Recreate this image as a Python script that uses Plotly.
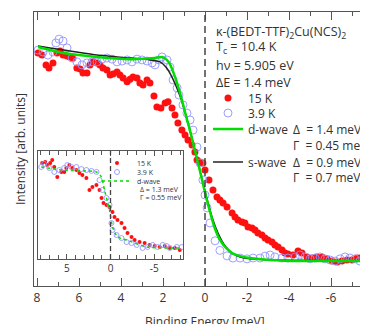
import plotly.graph_objects as go

# ---------------- data (main panel) ----------------
e_15k = [7.95, 7.76, 7.57, 7.43, 7.24, 7.05, 6.90, 6.76, 6.57, 6.43, 6.29, 6.10, 5.95, 5.81, 5.62,
         5.48, 5.33, 5.14, 5.00, 4.86, 4.67, 4.52, 4.38, 4.19, 4.05, 3.90, 3.71, 3.57, 3.43, 3.24,
         3.10, 2.95, 2.76, 2.62, 2.43, 2.29, 2.10, 1.90, 1.76, 1.57, 1.43, 1.29, 1.10, 0.95, 0.81,
         0.62, 0.48, 0.38, 0.24, 0.10, 0.00, -0.19, -0.38, -0.57, -0.71, -0.86, -1.05, -1.29, -1.43,
         -1.57, -1.76, -1.90, -2.05, -2.24, -2.38, -2.52, -2.71, -2.86, -3.00, -3.19, -3.33, -3.48,
         -3.67, -3.81, -3.95, -4.19, -4.43, -4.62, -4.86, -5.10, -5.33, -5.57, -5.81, -6.05, -6.29,
         -6.52, -6.76, -7.00, -7.24, -7.48, -7.71]
i_15k = [0.850, 0.843, 0.807, 0.796, 0.814, 0.850, 0.858, 0.843, 0.839, 0.836, 0.832, 0.796, 0.792,
         0.777, 0.777, 0.807, 0.818, 0.814, 0.807, 0.796, 0.788, 0.770, 0.774, 0.781, 0.770, 0.759,
         0.745, 0.755, 0.763, 0.759, 0.741, 0.734, 0.752, 0.741, 0.693, 0.653, 0.650, 0.668, 0.672,
         0.650, 0.624, 0.595, 0.569, 0.551, 0.533, 0.515, 0.489, 0.460, 0.453, 0.449, 0.423, 0.387,
         0.350, 0.325, 0.314, 0.303, 0.288, 0.266, 0.252, 0.241, 0.234, 0.230, 0.215, 0.212, 0.204,
         0.193, 0.186, 0.175, 0.168, 0.161, 0.150, 0.142, 0.131, 0.120, 0.117, 0.113, 0.128, 0.120,
         0.106, 0.102, 0.106, 0.106, 0.099, 0.091, 0.088, 0.091, 0.095, 0.095, 0.102, 0.106, 0.110]

e_39k = [7.95, 7.71, 7.48, 7.24, 7.10, 6.95, 6.76, 6.57, 6.33, 6.10, 5.86, 5.62, 5.38, 5.14, 4.90,
         4.67, 4.43, 4.19, 3.95, 3.71, 3.48, 3.24, 3.00, 2.76, 2.52, 2.38, 2.19, 2.05, 1.81, 1.67,
         1.52, 1.33, 1.24, 1.05, 0.86, 0.71, 0.57, 0.38, 0.24, 0.10, 0.00, -0.10, -0.24, -0.48,
         -0.71, -1.05, -1.33, -1.67, -2.00, -2.29, -2.62, -2.86, -3.10, -3.33, -3.67, -3.95, -4.29,
         -4.52, -4.76, -5.00, -5.24, -5.48, -5.71, -5.95, -6.19, -6.43, -6.67, -6.90, -7.14, -7.38,
         -7.62]
i_39k = [0.861, 0.854, 0.843, 0.854, 0.887, 0.901, 0.894, 0.869, 0.832, 0.818, 0.807, 0.814, 0.818,
         0.818, 0.828, 0.832, 0.828, 0.818, 0.821, 0.825, 0.818, 0.828, 0.825, 0.821, 0.814, 0.807,
         0.825, 0.836, 0.825, 0.799, 0.752, 0.723, 0.697, 0.661, 0.631, 0.606, 0.569, 0.507, 0.449,
         0.387, 0.332, 0.285, 0.230, 0.165, 0.130, 0.110, 0.102, 0.102, 0.099, 0.102, 0.102, 0.109,
         0.113, 0.106, 0.102, 0.102, 0.106, 0.113, 0.106, 0.099, 0.102, 0.106, 0.099, 0.095, 0.091,
         0.099, 0.106, 0.102, 0.099, 0.091, 0.088]

e_dfit = [7.95, 6.76, 5.14, 3.57, 2.38, 2.05, 1.86, 1.67, 1.48, 1.29, 1.10, 0.90, 0.71, 0.52, 0.33,
          0.14, -0.05, -0.24, -0.43, -0.62, -0.81, -1.00, -1.29, -1.67, -2.14, -3.10, -4.52, -6.43,
          -7.76]
i_dfit = [0.872, 0.850, 0.836, 0.828, 0.832, 0.836, 0.828, 0.810, 0.774, 0.730, 0.679, 0.620, 0.566,
          0.507, 0.449, 0.387, 0.325, 0.270, 0.219, 0.182, 0.157, 0.139, 0.120, 0.109, 0.102, 0.095,
          0.091, 0.091, 0.091]

e_sfit = [7.95, 5.14, 3.57, 2.62, 2.14, 1.86, 1.62, 1.38, 1.14, 0.90, 0.71, 0.52, 0.33, 0.14, -0.05,
          -0.24, -0.43, -0.62, -0.81, -1.00, -1.29, -1.67, -2.14, -3.10, -7.76]
i_sfit = [0.876, 0.843, 0.832, 0.825, 0.818, 0.799, 0.770, 0.730, 0.682, 0.620, 0.566, 0.507, 0.449,
          0.391, 0.332, 0.277, 0.230, 0.193, 0.164, 0.142, 0.120, 0.106, 0.099, 0.095, 0.091]

# ---------------- data (inset) ----------------
e_in15 = [7.82, 7.47, 7.24, 6.90, 6.67, 6.44, 6.09, 5.63, 5.29, 5.06, 4.71, 4.37, 3.91, 3.56, 3.22,
          2.76, 2.41, 2.07, 1.61, 1.26, 1.03, 0.80, 0.46, 0.11, -0.23, -0.46, -0.80, -1.26, -1.61,
          -1.95, -2.41, -2.76, -3.33, -3.91, -4.48, -5.06, -5.63, -6.21, -6.78, -7.36, -7.93]
i_in15 = [0.889, 0.898, 0.870, 0.889, 0.917, 0.852, 0.759, 0.806, 0.806, 0.843, 0.870, 0.843, 0.824,
          0.796, 0.778, 0.750, 0.639, 0.667, 0.685, 0.639, 0.565, 0.519, 0.500, 0.481, 0.435, 0.389,
          0.361, 0.333, 0.287, 0.241, 0.204, 0.176, 0.157, 0.148, 0.130, 0.120, 0.111, 0.120, 0.102,
          0.102, 0.083]

e_in39 = [7.93, 7.59, 7.01, 6.44, 5.86, 5.29, 4.94, 4.48, 3.91, 3.33, 2.76, 2.18, 1.61, 1.26, 0.92,
          0.46, 0.11, -0.11, -0.23, -0.69, -1.26, -1.84, -2.41, -2.99, -3.68, -4.25, -4.83, -5.40,
          -5.98, -6.44, -6.78, -7.59, -8.16]
i_in39 = [0.852, 0.880, 0.843, 0.806, 0.824, 0.843, 0.870, 0.852, 0.852, 0.833, 0.824, 0.815, 0.806,
          0.731, 0.639, 0.565, 0.500, 0.333, 0.269, 0.222, 0.194, 0.157, 0.148, 0.130, 0.102, 0.111,
          0.130, 0.111, 0.130, 0.120, 0.102, 0.111, 0.111]

e_indfit = [7.93, 5.52, 1.61, 1.03, 0.69, 0.11, -0.23, -0.80, -1.84, -4.14, -8.16]
i_indfit = [0.852, 0.824, 0.806, 0.759, 0.639, 0.454, 0.296, 0.204, 0.176, 0.111, 0.102]

# ---------------- ticks / labels ----------------
main_tickvals = [8, 6, 4, 2, 0, -2, -4, -6, -8]
main_ticktext = ["8", "6", "4", "2", "0", "-2", "-4", "-6", "-8"]
inset_tickvals = [5, 0, -5]
inset_ticktext = ["5", "0", "-5"]

sample_label = "κ-(BEDT-TTF)<sub>2</sub>Cu(NCS)<sub>2</sub>"
info_lines = ["T<sub>c</sub> = 10.4 K", "hν = 5.905 eV", "ΔE = 1.4 meV"]
series_names = ["15 K", "3.9 K", "d-wave", "s-wave"]
dwave_params = ["Δ  = 1.4 meV", "Γ  = 0.45 meV"]
swave_params = ["Δ  = 0.9 meV", "Γ  = 0.7 meV"]
inset_params = ["Δ = 1.3 meV", "Γ = 0.55 meV"]

# ---------------- layout helpers (page body adds an 8 px offset) ----------------
OFF = 8
W, H = 368 - OFF, 324 - OFF
ML, MR, MT, MB = 34 - OFF, 0, 12 - OFF, 38
PW, PH = W - ML - MR, H - MT - MB


def fx(px):  # screen px -> paper x
    return (px - OFF - ML) / PW


def fy(py):  # screen px -> paper y
    return (H - MB - (py - OFF)) / PH


RED = "#ff1010"
BLUE = "#9494ff"
GREEN = "#00dd00"
BLACK = "#222222"
AX = "#555555"
TXT = "#333333"
FONT = "Open Sans"

fig = go.Figure()

fig.add_trace(go.Scatter(x=e_15k, y=i_15k, mode="markers", name=series_names[0],
                         marker=dict(color=RED, size=7), legend="legend"))
fig.add_trace(go.Scatter(x=e_39k, y=i_39k, mode="markers", name=series_names[1],
                         marker=dict(symbol="circle-open", color=BLUE, size=8, line=dict(width=0.9)),
                         legend="legend2"))
fig.add_trace(go.Scatter(x=e_sfit, y=i_sfit, mode="lines", name=series_names[3], line_shape="spline",
                         line=dict(color=BLACK, width=1.5, smoothing=0.5), legend="legend4"))
fig.add_trace(go.Scatter(x=e_dfit, y=i_dfit, mode="lines", name=series_names[2], line_shape="spline",
                         line=dict(color=GREEN, width=2.5, smoothing=0.5), legend="legend3"))

# inset
fig.add_trace(go.Scatter(x=e_in15, y=i_in15, mode="markers", name=series_names[0], xaxis="x2", yaxis="y2",
                         marker=dict(color=RED, size=4), legend="legend5"))
fig.add_trace(go.Scatter(x=e_in39, y=i_in39, mode="markers", name=series_names[1], xaxis="x2", yaxis="y2",
                         marker=dict(symbol="circle-open", color=BLUE, size=5, line=dict(width=0.9)),
                         legend="legend6"))
fig.add_trace(go.Scatter(x=e_indfit, y=i_indfit, mode="lines", name=series_names[2], xaxis="x2", yaxis="y2",
                         line_shape="spline", line=dict(color=GREEN, width=1.5, dash="dot", smoothing=0.5),
                         legend="legend7"))

common_ax = dict(showgrid=False, zeroline=False, showline=True, linecolor=AX)

fig.update_layout(
    width=W, height=H,
    margin=dict(l=ML, r=MR, t=MT, b=MB),
    paper_bgcolor="white", plot_bgcolor="rgba(0,0,0,0)",
    font=dict(family=FONT, color=TXT, size=12),
    xaxis=dict(**common_ax, linewidth=1.3, range=[8 + 3 / 21, 8 - 331 / 21], domain=[0, 1],
               tickvals=main_tickvals, ticktext=main_ticktext, ticks="inside", ticklen=8,
               tickcolor=AX, tickwidth=1.3, mirror="allticks", tickfont=dict(size=12, color=TXT),
               minor=dict(dtick=1, tick0=0, ticks="inside", ticklen=4, tickcolor=AX, tickwidth=1.3)),
    yaxis=dict(**common_ax, linewidth=1.3, range=[0, 1], domain=[0, 1], showticklabels=False,
               ticks="", mirror=False),
    xaxis2=dict(**common_ax, linewidth=1, anchor="y2", range=[8.3, -8.3], domain=[fx(38), fx(183)],
                tickvals=inset_tickvals, ticktext=inset_ticktext, ticks="inside", ticklen=5,
                tickcolor=AX, tickwidth=1, mirror="allticks", tickfont=dict(size=10, color=TXT),
                minor=dict(dtick=1, tick0=0, ticks="inside", ticklen=4, tickcolor=AX, tickwidth=1)),
    yaxis2=dict(**common_ax, linewidth=1, anchor="x2", range=[0, 1], domain=[fy(259), fy(151)],
                showticklabels=False, ticks="", mirror=True),
    showlegend=True,
)


def legend_at(px_marker, py_center, size):
    # plotly: marker centre at 20 px from legend left, first item centre at h/2+5 from top
    h = max(size * 1.3, 16) + 3
    return dict(x=fx(px_marker - 20), y=fy(py_center - (h / 2 + 5)), xanchor="left", yanchor="top",
                bgcolor="rgba(0,0,0,0)", borderwidth=0, font=dict(size=size, color=TXT, family=FONT))


fig.update_layout(
    legend=legend_at(228, 98, 12),
    legend2=legend_at(228, 113, 12),
    legend3=legend_at(228, 129, 12),
    legend4=legend_at(228, 162, 12),
    legend5=legend_at(117, 163, 7),
    legend6=legend_at(117, 172, 7),
    legend7=legend_at(117, 181, 7),
)

ann = []


def text(px, py, s, size=12, anchor="left", **kw):
    ann.append(dict(x=fx(px), y=fy(py), xref="paper", yref="paper", text=s, showarrow=False,
                    xanchor=anchor, yanchor="middle", font=dict(size=size, color=TXT, family=FONT), **kw))


text(214, 32, sample_label, 12.5)
for k, s in enumerate(info_lines):
    text(214, [48, 66, 82][k], s, 12.5)
text(291, 129, dwave_params[0])
text(291, 145, dwave_params[1])
text(291, 162, swave_params[0])
text(291, 177, swave_params[1])
text(138, 189, inset_params[0], 7)
text(138, 197, inset_params[1], 7)
text(20, 149, "Intensity [arb. units]", 12, anchor="center", textangle=-90)
text(205, 321, "Binding Energy [meV]", 12, anchor="center")
fig.update_layout(annotations=ann)

fig.update_layout(shapes=[
    dict(type="line", xref="x", yref="y domain", x0=0, x1=0, y0=0, y1=1,
         line=dict(color="#444444", width=1.5, dash="7px,4px")),
    dict(type="line", xref="x2", yref="y2 domain", x0=0, x1=0, y0=0, y1=1,
         line=dict(color="#444444", width=1.3, dash="5px,3px")),
])

fig.write_html("out.html")
